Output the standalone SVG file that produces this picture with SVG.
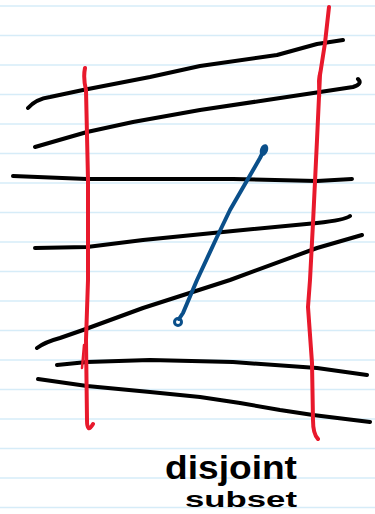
<svg xmlns="http://www.w3.org/2000/svg" width="375" height="514" viewBox="0 0 375 514">
<style>
.rule{stroke:#d6ecf8;stroke-width:1.5}
.ink{fill:none;stroke-linecap:round;stroke-linejoin:round}
.blk{stroke:#000;stroke-width:4}
.red{stroke:#e8192c;stroke-width:4}
.blu{stroke:#0a4f8a;stroke-width:4}
.lbl{font-family:"Liberation Sans",Arial,sans-serif;font-weight:bold;fill:#000}
</style>
<rect width="375" height="514" fill="#fff"/>
<g id="paper">
<line class="rule" x1="0" y1="6" x2="375" y2="6"/>
<line class="rule" x1="0" y1="35.5" x2="375" y2="35.5"/>
<line class="rule" x1="0" y1="65" x2="375" y2="65"/>
<line class="rule" x1="0" y1="94.5" x2="375" y2="94.5"/>
<line class="rule" x1="0" y1="124" x2="375" y2="124"/>
<line class="rule" x1="0" y1="153.5" x2="375" y2="153.5"/>
<line class="rule" x1="0" y1="183" x2="375" y2="183"/>
<line class="rule" x1="0" y1="212.5" x2="375" y2="212.5"/>
<line class="rule" x1="0" y1="242" x2="375" y2="242"/>
<line class="rule" x1="0" y1="271.5" x2="375" y2="271.5"/>
<line class="rule" x1="0" y1="301" x2="375" y2="301"/>
<line class="rule" x1="0" y1="330.5" x2="375" y2="330.5"/>
<line class="rule" x1="0" y1="360" x2="375" y2="360"/>
<line class="rule" x1="0" y1="389.5" x2="375" y2="389.5"/>
<line class="rule" x1="0" y1="419" x2="375" y2="419"/>
<line class="rule" x1="0" y1="448.5" x2="375" y2="448.5"/>
<line class="rule" x1="0" y1="478" x2="375" y2="478"/>
<line class="rule" x1="0" y1="507.5" x2="375" y2="507.5"/>
</g>
<g id="black-lines" class="ink blk">
<path d="M28,108 Q36,99 50,97 L83,90 L150,77 L200,66 L277,55 L317,44 L343,40"/>
<path d="M35,147 L87,132 L133,122 L200,110 L267,100 L320,92 L353,87 Q363,84 358,79"/>
<path d="M13,176 L87,179 L233,179 L317,181 L352,179"/>
<path d="M35,248 L87,247 L143,240 L233,231 L317,223 Q345,220 350,216"/>
<path d="M37,348 Q45,342 60,338 L83,330 L143,308 L230,280 L317,248 L362,235"/>
<path d="M57,365 L87,362 L150,360 L233,362 L317,368 L367,375"/>
<path d="M38,379 L87,386 L150,392 L200,397 L240,403 L280,410 L313,415 L370,422"/>
</g>
<g id="red-lines" class="ink red">
<path d="M85,68 Q83,78 86,90 L88,180 L88,280 L86,340 L87,420 Q87,434 93,424"/>
<path d="M84,345 L82,368" style="stroke-width:2.5"/>
<path d="M329,7 L325,43 L320,75 L317,140 L313,223 L310,280 L308,307 L312,363 L313,420 Q313,434 318,439"/>
<path d="M321,69 Q316,80 320,96" style="stroke-width:2.5"/>
</g>
<g id="blue-line" class="ink blu">
<path d="M265,148 L260,158 L230,210 L217,237 L197,280 L183,313 L179,319"/>
<ellipse cx="264" cy="150" rx="4" ry="6" transform="rotate(20 264 150)" fill="#0a4f8a" stroke="none"/>
<circle cx="178" cy="322" r="3.5" style="stroke-width:3"/>
</g>
<g id="label">
<text class="lbl" x="165" y="479" font-size="34" textLength="132" lengthAdjust="spacingAndGlyphs">disjoint</text>
<text class="lbl" x="185" y="507" font-size="22" textLength="112" lengthAdjust="spacingAndGlyphs">subset</text>
</g>
</svg>
